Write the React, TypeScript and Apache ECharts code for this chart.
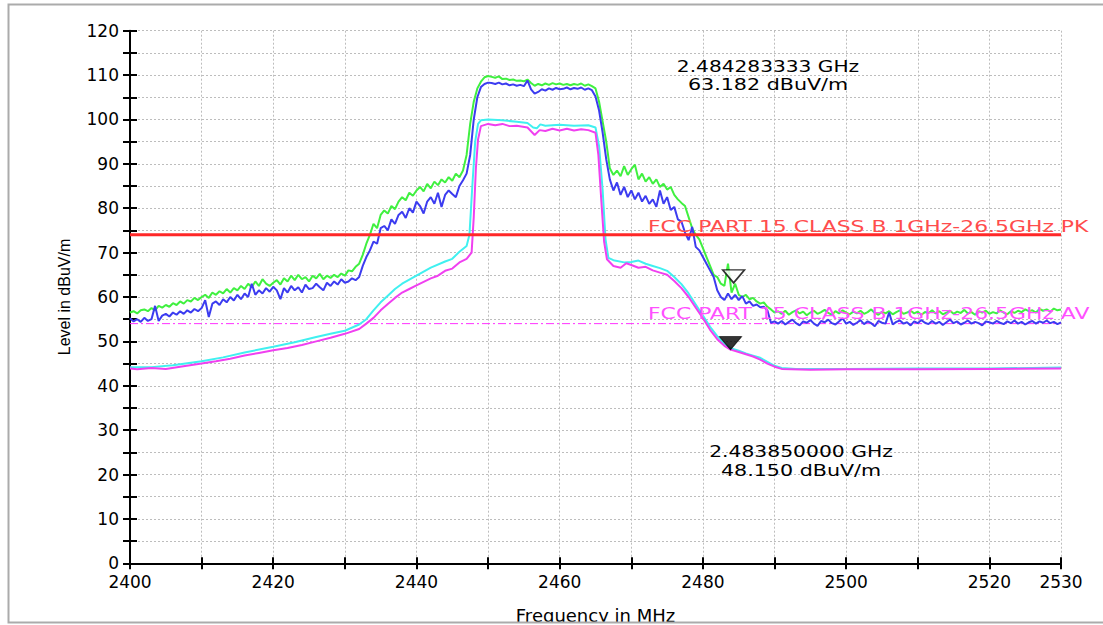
import React, { useEffect, useRef } from "react";
import * as echarts from "echarts";

// ---- sweep definition (uniform 0.5 MHz sweep for the peak traces) ----
const SWEEP_START_MHZ = 2400;
const SWEEP_STEP_MHZ = 0.5;

// Peak detector, max hold (green) – 2400 … 2530 MHz, 0.5 MHz steps
const peakMaxHold = [
  56.5, 56.8, 56.3, 57.0, 57.2, 56.8, 57.5, 57.0, 58.0, 57.6, 58.2, 57.8, 58.6, 58.2, 59.0, 58.5, 59.3, 59.0, 59.8, 59.3, 60.0,
  60.5, 59.8, 61.0, 60.5, 61.3, 60.8, 61.8, 61.0, 62.0, 61.5, 62.5, 61.8, 63.0, 62.2, 63.5, 62.5, 64.0, 63.0, 62.5, 63.2,
  63.8, 62.8, 64.2, 63.5, 64.8, 63.8, 65.0, 64.0, 64.5, 63.5, 64.8, 64.2, 65.2, 64.0, 64.8, 64.3, 65.0, 64.5, 65.3, 64.8,
  66.0, 65.8, 66.8, 67.5, 69.5, 72.0, 74.0, 76.5, 75.5, 78.5, 79.5, 78.8, 80.5, 79.8, 81.5, 82.5, 81.8, 83.5, 82.8, 84.0,
  84.8, 83.8, 85.5, 84.5, 86.0, 85.2, 86.5, 85.8, 87.0, 86.2, 87.8, 87.0, 88.5, 92.0, 99.0, 104.0, 107.0, 108.5, 109.5, 109.8,
  109.6, 109.4, 109.7, 109.1, 109.2, 108.9, 109.0, 108.7, 108.8, 108.6, 109.0, 108.2, 107.6, 108.0, 107.7, 108.1, 107.8, 108.2, 107.9, 108.1,
  107.8, 108.0, 107.7, 108.0, 107.8, 108.1, 107.6, 107.9, 107.5, 107.0, 104.0, 99.5, 95.0, 89.0, 87.5, 88.5, 87.2, 89.5, 87.5, 88.8,
  89.8, 86.5, 87.8, 86.0, 87.0, 85.5, 86.5, 84.8, 85.5, 84.2, 84.8, 83.0, 82.0, 81.2, 80.5, 78.0, 75.5, 74.0, 73.0, 71.0,
  69.0, 67.0, 65.0, 64.5, 63.0, 62.5, 67.5, 61.0, 63.0, 60.5, 60.0, 60.5, 59.5, 59.8, 59.0, 58.5, 58.8, 57.8, 57.2, 56.5,
  56.8, 56.2, 56.9, 56.0, 56.6, 57.0, 56.3, 56.7, 55.9, 56.5,
  56.9, 56.2, 56.6, 57.1, 56.4, 56.0, 56.8, 56.3, 57.0, 56.5,
  56.1, 56.7, 56.3, 56.9, 56.2, 56.6, 57.2, 56.4, 56.0, 56.7,
  56.3, 56.8, 56.1, 56.6, 57.0, 56.2, 56.5, 56.9, 56.3, 56.7,
  56.0, 56.6, 56.4, 57.0, 56.3, 56.8, 56.1, 56.5, 56.9, 56.2,
  56.7, 56.4, 57.1, 56.3, 56.6, 56.0, 56.8, 56.5, 56.9, 56.2,
  56.6, 56.3, 57.0, 56.5, 56.1, 56.8, 56.4, 56.9, 56.6, 57.2,
  56.8, 57.0, 56.5, 57.3, 56.9, 57.2, 56.7, 57.4, 57.0, 57.2,
];

// Peak detector, clear write (blue) – same sweep
const peakClearWrite = [
  55.2, 54.5, 55.0, 54.4, 55.3, 54.6, 55.0, 58.0, 54.6, 55.8, 56.2, 55.6, 56.5, 56.0, 56.8, 56.2, 57.0, 56.5, 57.3, 56.8, 57.5,
  59.3, 55.5, 58.5, 59.0, 58.2, 59.5, 58.8, 60.0, 59.2, 60.5, 59.5, 60.8, 60.0, 63.0, 60.5, 61.5, 60.8, 62.0, 61.2, 62.3,
  61.5, 59.5, 62.0, 61.0, 62.5, 61.5, 62.2, 61.0, 62.8, 61.8, 62.0, 63.0, 62.2, 61.5, 63.2, 62.5, 63.5, 62.8, 64.0, 63.2,
  63.5, 64.2, 63.8, 64.5, 67.0, 69.0, 70.5, 72.5, 72.0, 75.5, 76.0, 75.0, 77.5, 76.5, 78.5, 79.2, 77.8, 80.0, 79.0, 81.5,
  80.5, 78.8, 81.5, 82.5, 81.0, 83.5, 80.3, 83.0, 84.0, 83.2, 82.5, 85.0, 86.3, 87.8, 92.0, 100.0, 105.0, 107.3, 108.0, 108.3,
  108.2, 108.0, 108.3, 107.9, 108.1, 107.7, 107.9, 107.6, 107.8, 107.5, 108.8, 106.8, 105.8, 106.2, 106.8, 106.5, 107.0, 106.7, 107.1, 106.8,
  106.9, 107.2, 106.8, 107.1, 106.9, 107.2, 106.7, 107.0, 106.6, 105.2, 102.0, 97.0, 91.0, 86.5, 84.0, 85.8, 83.0, 84.8, 82.5, 84.0,
  82.0, 83.5, 81.5, 82.8, 81.0, 82.0, 80.3, 84.0, 81.0, 82.5, 79.6, 80.3, 77.5, 77.0, 74.5, 72.8, 75.8, 71.3, 70.5, 69.0,
  67.5, 66.0, 64.5, 61.5, 60.0, 59.3, 60.8, 59.5, 60.5, 59.3, 60.2, 58.5, 59.0, 58.0, 58.3, 57.7, 57.8, 57.0, 54.2, 54.5,
  54.0, 54.6, 53.8, 54.4, 54.9, 54.1, 53.6, 54.5, 54.2, 54.8,
  54.0, 53.5, 54.6, 54.3, 54.9, 54.1, 53.8, 54.5, 55.2, 54.0,
  54.4, 53.7, 54.2, 54.8, 53.9, 54.5, 54.1, 53.4, 54.6, 54.2,
  54.0, 56.5, 53.8, 54.4, 54.7, 54.0, 54.3, 53.6, 54.5, 54.1,
  54.8, 54.2, 53.9, 54.6, 54.0, 54.4, 53.7, 54.3, 54.9, 54.1,
  54.5, 53.8, 54.2, 54.7, 54.0, 54.4, 54.1, 53.6, 54.5, 54.3,
  54.0, 54.6, 54.2, 53.9, 54.5, 54.1, 54.7, 54.0, 54.4, 53.8,
  54.3, 54.6, 54.0, 54.5, 54.2, 54.7, 54.1, 54.4, 53.9, 54.3,
];

// Average detector, max hold (cyan) – [MHz, dBuV/m]
const avgMaxHold: [number, number][] = [
  [2400, 44.2], [2403, 44.2], [2406, 44.6], [2410, 45.5], [2413, 46.4], [2416, 47.5], [2420, 48.8], [2423, 49.8],
  [2426, 51.0], [2428, 51.7], [2430, 52.4], [2432, 53.8], [2433, 55.0], [2434, 57.0], [2435, 58.8], [2436, 60.3],
  [2437, 61.8], [2438, 63.0], [2440, 64.8], [2442, 66.6], [2444, 68.0], [2445, 68.6], [2446, 70.2], [2447, 71.5],
  [2447.4, 74], [2447.8, 85], [2448.2, 95], [2448.6, 99], [2449, 99.8], [2450, 100.0], [2452, 99.8], [2454, 99.5],
  [2455.5, 99.2], [2456.3, 98.2], [2456.8, 98.0], [2457.3, 98.9], [2458, 98.6], [2460, 98.8], [2462, 98.6], [2464, 98.7],
  [2465, 98.2], [2465.5, 94], [2466, 84], [2466.4, 73], [2466.8, 68.8], [2467.5, 68.3], [2469, 67.8], [2470, 67.9],
  [2471, 68.2], [2472, 67.5], [2473, 67.0], [2474, 66.5], [2475, 65.9], [2476, 64.5], [2477, 62.9], [2478, 60.8],
  [2479, 58.3], [2480, 55.8], [2481, 53.3], [2482, 51.2], [2483, 49.4], [2484, 48.4], [2485, 47.9], [2486, 47.3],
  [2487, 46.8], [2488, 46.3], [2489, 45.4], [2490, 44.5], [2491, 44.0], [2493, 43.8], [2500, 43.8], [2510, 43.9],
  [2520, 43.9], [2530, 44.1],
];

// Average detector, clear write (magenta) – [MHz, dBuV/m]
const avgClearWrite: [number, number][] = [
  [2400, 43.9], [2401, 43.7], [2403, 44.0], [2405, 43.8], [2407, 44.3], [2410, 45.0], [2412, 45.5], [2414, 46.1],
  [2416, 46.8], [2418, 47.4], [2420, 48.0], [2422, 48.5], [2424, 49.2], [2426, 50.0], [2428, 50.8], [2430, 51.7],
  [2432, 52.8], [2433, 54.0], [2434, 55.3], [2435, 57.0], [2436, 58.4], [2437, 59.8], [2438, 61.0], [2439, 61.8],
  [2440, 62.6], [2442, 64.2], [2443, 64.8], [2444, 65.9], [2445, 66.4], [2446, 67.8], [2447, 68.6], [2447.7, 70.0],
  [2448.0, 78], [2448.3, 89], [2448.6, 95.5], [2449, 98.5], [2450, 99.0], [2451, 98.7], [2452, 99.0], [2453, 98.5],
  [2454, 98.6], [2455.5, 98.2], [2456.5, 96.5], [2457.2, 97.6], [2458, 97.4], [2459, 97.9], [2460, 97.5], [2461, 97.9],
  [2462, 97.5], [2463, 97.8], [2464, 97.6], [2465, 97.0], [2465.4, 92], [2465.8, 82], [2466.2, 72.5], [2466.6, 68.5],
  [2467.5, 67.0], [2468.5, 66.6], [2469.3, 67.6], [2470, 67.2], [2471, 66.6], [2472, 66.8], [2473, 66.0], [2474, 65.5],
  [2475, 65.0], [2476, 63.6], [2477, 62.0], [2478, 60.0], [2479, 57.6], [2480, 55.2], [2481, 52.6], [2482, 50.5],
  [2483, 49.0], [2483.85, 48.15], [2485, 47.6], [2486, 47.1], [2487, 46.6], [2488, 45.9], [2489, 45.0], [2490, 44.3],
  [2491, 43.8], [2495, 43.6], [2500, 43.7], [2510, 43.7], [2520, 43.8], [2530, 43.9],
];

// Limits
const FREQ_MIN = 2400;
const FREQ_MAX = 2530;
const LIMIT_PK = 74;
const LIMIT_AV = 54;
const LIMIT_PK_TEXT = "FCC PART 15 CLASS B 1GHz-26.5GHz PK";
const LIMIT_AV_TEXT = "FCC PART 15 CLASS B 1GHz-26.5GHz AV";

// Axis labels
const xLabelValues = [2400, 2420, 2440, 2460, 2480, 2500, 2520, 2530];
const yLabelValues = [0, 10, 20, 30, 40, 50, 60, 70, 80, 90, 100, 110, 120];

// Markers
const marker1: [number, number] = [2484.283333, 63.182];
const marker2: [number, number] = [2483.85, 48.15];
const marker1Lines = ["2.484283333 GHz", "63.182 dBuV/m"];
const marker2Lines = ["2.483850000 GHz", "48.150 dBuV/m"];

const NUM_FONT = '"DejaVu Sans"';
const TICK_STYLE = { color: "#000", width: 2 };

export default function App() {
  const ref = useRef<HTMLDivElement>(null);

  useEffect(() => {
    if (!ref.current) return;
    const chart = echarts.init(ref.current, null, { renderer: "svg" });

    const sweep = (vals: number[]) =>
      vals.map((v, i) => [SWEEP_START_MHZ + i * SWEEP_STEP_MHZ, v]);

    const baseX = {
      type: "value" as const,
      min: FREQ_MIN,
      max: FREQ_MAX,
      interval: 10,
    };
    const baseY = {
      type: "value" as const,
      min: 0,
      max: 120,
      interval: 5,
    };

    chart.setOption({
      animation: false,
      backgroundColor: "#ffffff",
      grid: {
        left: 130,
        right: 42,
        top: 30.7,
        bottom: 61.7,
        containLabel: false,
        outerBoundsMode: "none",
      },
      xAxis: [
        {
          ...baseX,
          position: "bottom",
          axisLine: { show: true, onZero: false, lineStyle: { color: "#000", width: 2 } },
          axisTick: { show: true, inside: false, length: 6, lineStyle: TICK_STYLE },
          axisLabel: {
            show: true,
            margin: 10,
            color: "#000",
            fontSize: 17,
            fontFamily: NUM_FONT,
            showMinLabel: true,
            showMaxLabel: true,
            formatter: (v: number) => (xLabelValues.includes(v) ? String(v) : ""),
          },
          splitLine: { show: true, lineStyle: { color: "#bdbdbd", type: [2, 2], width: 1 } },
          name: "Frequency in MHz",
          nameLocation: "middle",
          nameGap: 43,
          nameTextStyle: { color: "#000", fontSize: 18, fontFamily: NUM_FONT },
        },
        {
          ...baseX,
          position: "bottom",
          axisLine: { show: false },
          axisTick: { show: true, inside: true, length: 6, lineStyle: TICK_STYLE },
          axisLabel: { show: false },
          splitLine: { show: false },
        },
      ],
      yAxis: [
        {
          ...baseY,
          position: "left",
          axisLine: { show: true, onZero: false, lineStyle: { color: "#000", width: 2 } },
          axisTick: { show: true, inside: false, length: 7, lineStyle: TICK_STYLE },
          axisLabel: {
            show: true,
            margin: 11,
            color: "#000",
            fontSize: 17,
            fontFamily: NUM_FONT,
            formatter: (v: number) => (yLabelValues.includes(v) ? String(v) : ""),
          },
          splitLine: { show: true, lineStyle: { color: "#bdbdbd", type: [2, 2], width: 1 } },
          name: "Level in dBuV/m",
          nameLocation: "middle",
          nameRotate: 90,
          nameGap: 58,
          nameTextStyle: { color: "#000", fontSize: 16, fontFamily: '"Liberation Sans"' },
        },
        {
          ...baseY,
          position: "left",
          axisLine: { show: false },
          axisTick: { show: true, inside: true, length: 7, lineStyle: TICK_STYLE },
          axisLabel: { show: false },
          splitLine: { show: false },
        },
      ],
      series: [
        {
          name: "AV limit",
          type: "line",
          data: [[FREQ_MIN, LIMIT_AV], [FREQ_MAX, LIMIT_AV]],
          showSymbol: false,
          lineStyle: { color: "#ff30ff", width: 1, type: [8, 3, 2, 3] },
          z: 1,
        },
        {
          name: "Peak max hold",
          type: "line",
          data: sweep(peakMaxHold),
          showSymbol: false,
          lineStyle: { color: "#40f040", width: 2 },
          z: 2,
        },
        {
          name: "Peak",
          type: "line",
          data: sweep(peakClearWrite),
          showSymbol: false,
          lineStyle: { color: "#3c3cf0", width: 2 },
          z: 3,
        },
        {
          name: "Average max hold",
          type: "line",
          data: avgMaxHold,
          showSymbol: false,
          lineStyle: { color: "#40f0f0", width: 2 },
          z: 4,
        },
        {
          name: "Average",
          type: "line",
          data: avgClearWrite,
          showSymbol: false,
          lineStyle: { color: "#f040f0", width: 2 },
          z: 5,
        },
        {
          name: "PK limit",
          type: "line",
          data: [[FREQ_MIN, LIMIT_PK], [FREQ_MAX, LIMIT_PK]],
          showSymbol: false,
          lineStyle: { color: "#ff2828", width: 3 },
          z: 6,
        },
        {
          name: "Marker 1",
          type: "scatter",
          data: [marker1],
          symbol: "triangle",
          symbolRotate: 180,
          symbolSize: [22, 13],
          symbolOffset: [0, -6.5],
          itemStyle: { color: "#ffffff", borderColor: "#000", borderWidth: 1.5 },
          z: 7,
        },
        {
          name: "Marker 2",
          type: "scatter",
          data: [marker2],
          symbol: "triangle",
          symbolRotate: 180,
          symbolSize: [22, 13],
          symbolOffset: [0, -6.5],
          itemStyle: { color: "#000000", borderColor: "#000", borderWidth: 1 },
          z: 7,
        },
      ],
    });

    const yPk = chart.convertToPixel({ yAxisIndex: 0 }, LIMIT_PK) as number;
    const yAv = chart.convertToPixel({ yAxisIndex: 0 }, LIMIT_AV) as number;

    const txt = (
      text: string,
      x: number,
      y: number,
      fill: string,
      scaleX: number,
      align: "left" | "center" = "center"
    ) => ({
      type: "text",
      x,
      y,
      scaleX,
      z: 50,
      style: {
        text,
        fill,
        fontSize: 16,
        fontFamily: NUM_FONT,
        align,
        verticalAlign: "middle",
        textAlign: align,
        textVerticalAlign: "middle",
      },
    });

    chart.setOption({
      graphic: [
        txt(marker1Lines[0], 768, 66, "#000", 1.26),
        txt(marker1Lines[1], 768, 84, "#000", 1.29),
        txt(marker2Lines[0], 801, 451, "#000", 1.27),
        txt(marker2Lines[1], 801, 470, "#000", 1.29),
        txt(LIMIT_PK_TEXT, 648, yPk - 8.5, "#ff4c4c", 1.37, "left"),
        txt(LIMIT_AV_TEXT, 648, yAv - 10.5, "#ff50ff", 1.37, "left"),
        {
          type: "rect",
          z: 90,
          shape: { x: 0, y: 623, width: 1103, height: 4 },
          style: { fill: "#ffffff" },
        },
        {
          type: "rect",
          z: 91,
          shape: { x: 8.5, y: 4.5, width: 1120, height: 618 },
          style: { fill: "none", stroke: "#ababab", lineWidth: 2 },
        },
      ],
    });

    return () => chart.dispose();
  }, []);

  return (
    <div
      ref={ref}
      style={{ position: "fixed", left: 0, top: 0, width: 1103, height: 625, background: "#fff" }}
    />
  );
}
